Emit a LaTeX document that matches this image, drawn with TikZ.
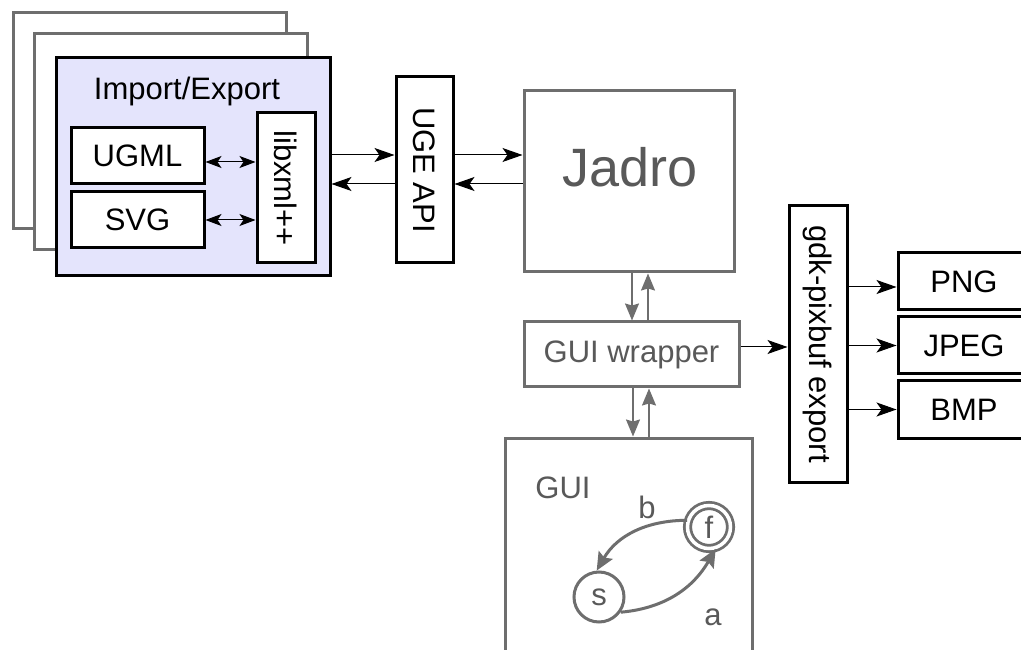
\documentclass[tikz,border=0pt]{standalone}
\usepackage{fontspec}
\setmainfont{Liberation Sans}
\usepackage{graphicx}
\usepackage{tikz}
\usetikzlibrary{positioning,arrows.meta}
\definecolor{boxgray}{HTML}{6E6E6E}
\definecolor{textgray}{HTML}{595959}
\definecolor{lavender}{HTML}{E4E4FC}
\newcommand{\labelsize}{\fontsize{31}{37}\selectfont}
\newcommand{\bigsize}{\fontsize{54}{62}\selectfont}

\begin{document}
\begin{tikzpicture}[x=1pt, y=1pt,
    blackbox/.style={rectangle, draw=black, line width=3pt, fill=white, inner sep=0pt, font=\labelsize},
    graybox/.style={rectangle, draw=boxgray, line width=3pt, fill=white, inner sep=0pt,
                    text=textgray, font=\labelsize},
    state/.style={circle, draw=boxgray, line width=3pt, fill=white, text=textgray, inner sep=0pt,
                  minimum size=50pt, font=\labelsize},
    arrow/.style={-{Stealth[length=20pt, width=14pt, inset=5pt]}, line width=1pt},
    dblarrow/.style={{Stealth[length=16pt, width=12pt, inset=4pt]}-{Stealth[length=16pt, width=12pt, inset=4pt]},
                     line width=1pt},
    grayarrow/.style={-{Stealth[length=17pt, width=14pt, inset=2pt]}, draw=boxgray, line width=1.5pt},
    trans/.style={-{Stealth[length=18pt, width=16pt, inset=3pt]}, draw=boxgray, line width=3pt},
    tag/.style={font=\labelsize, text=textgray}
]
\useasboundingbox (0,0) rectangle (1021,649);
\clip (0,0) rectangle (1021,649);

% Import/Export plugins (stacked)
\node[graybox, minimum width=273pt, minimum height=216pt] (stackA) at (149.5,528) {};
\node[graybox, minimum width=273pt, minimum height=216pt] (stackB) at (170.5,507) {};
\node[blackbox, fill=lavender, minimum width=274pt, minimum height=218pt] (imex) at (193,482) {};
\node[font=\labelsize, anchor=base] (imextitle) at (187,549) {Import/Export};

\node[blackbox, minimum width=133pt, minimum height=56pt] (ugml) at (137.5,493) {UGML};
\node[blackbox, minimum width=133pt, minimum height=56pt, below=5pt of ugml] (svg) {SVG};
\node[blackbox, minimum width=58pt, minimum height=150pt] (libxml) at (286,461) {\rotatebox{-90}{libxml++}};

% API and core
\node[blackbox, minimum width=57pt, minimum height=186pt] (uge) at (424.5,479) {\rotatebox{-90}{UGE API}};
\node[graybox, minimum width=210pt, minimum height=181pt] (jadro) at (629,467.5) {};
\node[font=\bigsize, text=textgray, anchor=base] (jadrotitle) at (630,462) {Jadro};

% GUI side
\node[graybox, minimum width=215pt, minimum height=65pt] (wrapper) at (631.5,294.5) {GUI wrapper};
\node[graybox, minimum width=247pt, minimum height=260pt] (gui) at (628.5,81) {};
\node[tag] (guititle) at (563,161) {GUI};

% Export
\node[blackbox, minimum width=58pt, minimum height=276pt] (gdk) at (818,305) {\rotatebox{-90}{gdk-pixbuf export}};
\node[blackbox, minimum width=132pt, minimum height=57pt] (png) at (964,367.5) {PNG};
\node[blackbox, minimum width=132pt, minimum height=57pt, below=4pt of png] (jpeg) {JPEG};
\node[blackbox, minimum width=132pt, minimum height=57pt, below=4pt of jpeg] (bmp) {BMP};

% Arrows - plugins
\draw[dblarrow] ([yshift=-6pt]ugml.east) -- ([yshift=-6pt]ugml.east -| libxml.west);
\draw[dblarrow] (svg.east) -- (svg.east -| libxml.west);
\draw[arrow] (imex.east |- 0,494) -- (uge.west |- 0,494);
\draw[arrow] (uge.west |- 0,465) -- (imex.east |- 0,465);
\draw[arrow] (uge.east |- 0,494) -- (jadro.west |- 0,494);
\draw[arrow] (jadro.west |- 0,465) -- (uge.east |- 0,465);

% Arrows - GUI
\draw[grayarrow] (jadro.south -| 632,0) -- (wrapper.north -| 632,0);
\draw[grayarrow] (wrapper.north -| 648,0) -- (jadro.south -| 648,0);
\draw[grayarrow] (wrapper.south -| 633,0) -- (gui.north -| 633,0);
\draw[grayarrow] (gui.north -| 649,0) -- (wrapper.south -| 649,0);

% Arrows - export
\draw[arrow] (wrapper.east |- 0,302) -- (gdk.west |- 0,302);
\draw[arrow] (gdk.east |- 0,362) -- (png.west |- 0,362);
\draw[arrow] (gdk.east |- jpeg.west) -- (jpeg.west);
\draw[arrow] (gdk.east |- bmp.west) -- (bmp.west);

% Automaton inside the GUI
\node[state] (s) at (599,52) {s};
\node[state, line width=2.8pt, double=white, double distance=3.5pt, minimum size=43pt] (f) at (709,122) {f};
\draw[trans] (s.-35) to[out=5, in=-120] (f.-73);
\draw[trans] (f.163) to[out=180, in=60] (s.95);
\node[tag] (alabel) at (713,32) {a};
\node[tag] (blabel) at (647,142) {b};

\end{tikzpicture}
\end{document}
